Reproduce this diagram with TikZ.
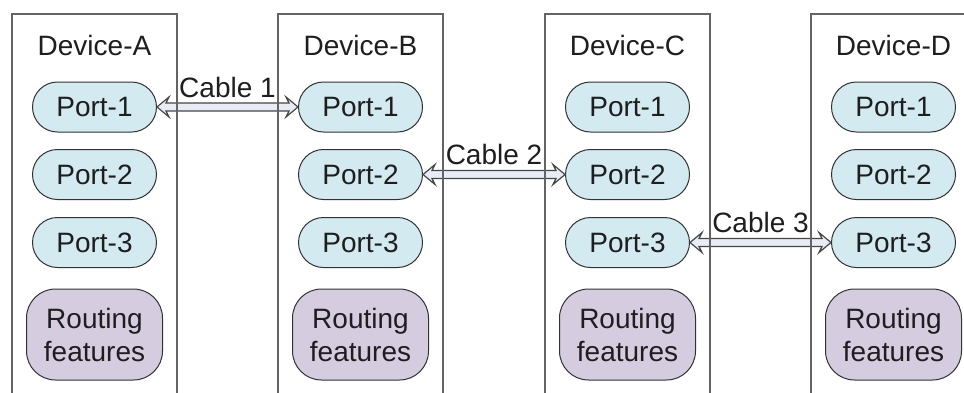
\documentclass[tikz,border=0pt]{standalone}
\usepackage{fontspec}
\setmainfont{Liberation Sans}
\usetikzlibrary{calc,shapes.misc}
\definecolor{portfill}{RGB}{210,234,240}
\definecolor{routefill}{RGB}{213,204,224}
\definecolor{boxgray}{RGB}{100,100,100}
\definecolor{edgedark}{RGB}{50,50,50}
\definecolor{cablefill}{RGB}{232,236,246}
\definecolor{cablegray}{RGB}{70,70,70}
\definecolor{textgray}{RGB}{30,30,30}
\newcommand\cablearrow[3]{%
  \draw[cable] let \p1=(#1.east), \p2=(#2.west) in
    (\x1,\y1) -- (\x1+12pt,\y1+10pt) -- (\x1+9pt,\y1+4pt) -- (\x2-9pt,\y1+4pt)
    -- (\x2-12pt,\y1+10pt) -- (\x2,\y1) -- (\x2-12pt,\y1-10pt) -- (\x2-9pt,\y1-4pt)
    -- (\x1+9pt,\y1-4pt) -- (\x1+12pt,\y1-10pt) -- cycle;
  \node[cablelabel] (#3) at ($(#1.east)!0.5!(#2.west)$) {#3};}
\begin{document}
\begin{tikzpicture}[x=1pt,y=-1pt,
  bigfont/.style={font=\fontsize{28}{33}\selectfont, text=textgray},
  devbox/.style={draw=boxgray, line width=1.5pt, minimum width=165pt, minimum height=420pt, anchor=north, inner sep=0pt},
  devtitle/.style={bigfont, inner sep=0pt},
  portnode/.style={rounded rectangle, draw=edgedark, fill=portfill, line width=1pt, minimum width=124pt, minimum height=50pt, inner sep=0pt, bigfont},
  routenode/.style={draw=edgedark, fill=routefill, line width=1pt, rounded corners=29pt, minimum width=136pt, minimum height=91pt, inner sep=0pt, align=center, bigfont},
  cable/.style={draw=cablegray, line width=1.2pt, fill=cablefill, line join=miter},
  cablelabel/.style={bigfont, inner sep=0pt, anchor=base, yshift=10pt}
]
\useasboundingbox (0,0) rectangle (964,392);
\clip (0,0) rectangle (964,392);
\fill[white] (0,0) rectangle (964,392);

\foreach \n/\cx/\lab in {a/94.5/A, b/360.5/B, c/627.5/C, d/893.5/D} {
  \node[devtitle] (title\n) at (\cx,45) {Device-\lab};
  \node[portnode] (p\n1) at (\cx,107) {Port-1};
  \node[portnode] (p\n2) at (\cx,174.5) {Port-2};
  \node[portnode] (p\n3) at (\cx,242.5) {Port-3};
  \node[routenode] (r\n) at (\cx,334.5) {Routing\\features};
}

\cablearrow{pa1}{pb1}{Cable 1}
\cablearrow{pb2}{pc2}{Cable 2}
\cablearrow{pc3}{pd3}{Cable 3}

\foreach \n/\cx in {a/94.5, b/360.5, c/627.5, d/893.5} {
  \node[devbox] (box\n) at (\cx,13) {};
}
\end{tikzpicture}
\end{document}
